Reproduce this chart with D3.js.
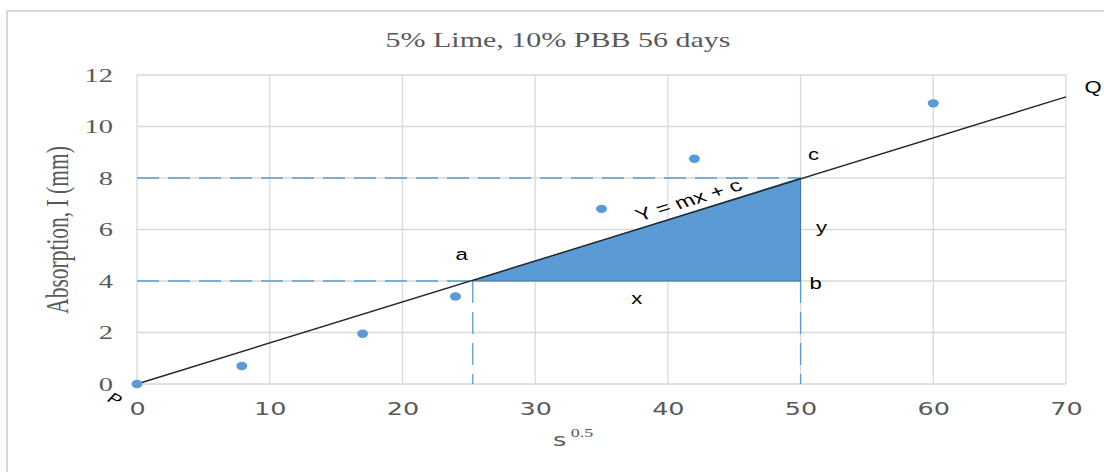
<!DOCTYPE html>
<html>
<head>
<meta charset="utf-8">
<script src="https://cdn.jsdelivr.net/npm/d3@7"></script>
<style>
    body { margin: 0; background: #fff; }
    svg { display: block; }
</style>
</head>
<body>
<div id="chart"></div>
<script>
// data
const sValues = [0, 7.9, 17, 24, 35, 42, 60];
const absorption = [0, 0.7, 1.95, 3.4, 6.8, 8.75, 10.9];

// fitted line from P to Q
const fitX = [0, 70];
const fitY = [0, 11.15];

// triangle corners a, b, c
const cornerNames = ["a", "b", "c"];
const cornerX = [25.3, 50, 50];
const cornerY = [4, 4, 8];

const xTicks = [0, 10, 20, 30, 40, 50, 60, 70];
const yTicks = [0, 2, 4, 6, 8, 10, 12];

const title = "5% Lime, 10% PBB 56 days";

// the source picture is stretched sideways, so text is too
const SX = 1.5;
const SA = 1.4;   // stretch for the annotation text

let width = 1104, height = 472;
let margin = {top: 75, right: 38, bottom: 88, left: 137};
let innerW = width - margin.left - margin.right;
let innerH = height - margin.top - margin.bottom;

let svg = d3.select("#chart").append("svg")
    .attr("width", width)
    .attr("height", height);

// outer chart frame
svg.append("rect")
    .attr("x", 7).attr("y", 11)
    .attr("width", width + 20).attr("height", height + 20)
    .attr("fill", "none")
    .attr("stroke", "#d9d9d9")
    .attr("stroke-width", 2);

svg.append("text")
    .attr("transform", `translate(558, 47) scale(${SX}, 1)`)
    .attr("text-anchor", "middle")
    .attr("font-family", "Liberation Serif, serif")
    .attr("font-size", 20)
    .attr("fill", "#595959")
    .text(title);

let g = svg.append("g")
    .attr("transform", `translate(${margin.left}, ${margin.top})`);

let x = d3.scaleLinear().domain([0, 70]).range([0, innerW]);
let y = d3.scaleLinear().domain([0, 12]).range([innerH, 0]);

// gridlines
g.append("g").selectAll("line").data(xTicks).enter().append("line")
    .attr("x1", d => x(d)).attr("x2", d => x(d))
    .attr("y1", 0).attr("y2", innerH)
    .attr("stroke", "#d9d9d9").attr("stroke-width", 1.3);

g.append("g").selectAll("line").data(yTicks).enter().append("line")
    .attr("x1", 0).attr("x2", innerW)
    .attr("y1", d => y(d)).attr("y2", d => y(d))
    .attr("stroke", "#d9d9d9").attr("stroke-width", 1.3);

// axes (labels only)
let xAxis = g.append("g")
    .attr("transform", `translate(0, ${innerH})`)
    .call(d3.axisBottom(x).tickValues(xTicks).tickSize(0).tickPadding(19));
xAxis.select(".domain").remove();
xAxis.selectAll("text")
    .attr("transform", `scale(${SX}, 1)`)
    .attr("font-family", "DejaVu Sans, sans-serif")
    .attr("font-size", 17)
    .attr("fill", "#595959");

let yAxis = g.append("g")
    .call(d3.axisLeft(y).tickValues(yTicks).tickSize(0));
yAxis.select(".domain").remove();
yAxis.selectAll("text")
    .attr("x", -24 / SX)
    .attr("dy", "0.34em")
    .attr("transform", `scale(${SX}, 1)`)
    .attr("font-family", "Liberation Serif, serif")
    .attr("font-size", 19)
    .attr("fill", "#595959");

// axis titles
svg.append("text")
    .attr("transform", `translate(68, 230) scale(${SX}, 1) rotate(-90)`)
    .attr("text-anchor", "middle")
    .attr("font-family", "Liberation Serif, serif")
    .attr("font-size", 21.5)
    .attr("fill", "#595959")
    .text("Absorption, I (mm)");

let xLab = svg.append("text")
    .attr("transform", `translate(553, 446) scale(${SX}, 1)`)
    .attr("font-family", "DejaVu Sans, sans-serif")
    .attr("font-size", 17)
    .attr("fill", "#595959");
xLab.append("tspan").text("s");
xLab.append("tspan")
    .attr("dx", 3)
    .attr("dy", -9)
    .attr("font-family", "Liberation Serif, serif")
    .attr("font-size", 12)
    .text("0.5");

// dashed construction lines
let a = {x: cornerX[0], y: cornerY[0]};
let b = {x: cornerX[1], y: cornerY[1]};
let c = {x: cornerX[2], y: cornerY[2]};
let dashes = [
    [0, c.y, c.x, c.y],
    [0, a.y, a.x, a.y],
    [a.x, a.y, a.x, 0],
    [b.x, b.y, b.x, 0]
];
g.append("g").selectAll("line").data(dashes).enter().append("line")
    .attr("x1", d => x(d[0])).attr("y1", d => y(d[1]))
    .attr("x2", d => x(d[2])).attr("y2", d => y(d[3]))
    .attr("stroke", "#5b9bd5")
    .attr("stroke-width", 1.3)
    .attr("stroke-dasharray", "22,9");

// triangle
g.append("path")
    .attr("d", d3.line().x(d => x(d[0])).y(d => y(d[1]))(cornerX.map((v, i) => [v, cornerY[i]])) + "Z")
    .attr("fill", "#5b9bd5")
    .attr("stroke", "#41719c")
    .attr("stroke-width", 1);

// fitted line
g.append("path")
    .attr("d", d3.line().x(d => x(d[0])).y(d => y(d[1]))(fitX.map((v, i) => [v, fitY[i]])))
    .attr("fill", "none")
    .attr("stroke", "#262626")
    .attr("stroke-width", 1.4);

// points
g.append("g").selectAll("ellipse").data(sValues).enter().append("ellipse")
    .attr("cx", d => x(d))
    .attr("cy", (d, i) => y(absorption[i]))
    .attr("rx", 5.5)
    .attr("ry", 4.2)
    .attr("fill", "#5b9bd5");

// annotation labels
let annFont = "Liberation Sans, Arial, sans-serif";
let labels = [
    {t: "a", px: x(a.x) - 11, py: y(a.y) - 25},
    {t: "b", px: x(b.x) + 15, py: y(b.y) + 4},
    {t: "c", px: x(c.x) + 13, py: y(c.y) - 22},
    {t: "x", px: (x(a.x) + x(b.x)) / 2, py: y(a.y) + 19},
    {t: "y", px: x(b.x) + 21, py: (y(b.y) + y(c.y)) / 2 - 1},
    {t: "Q", px: x(fitX[1]) + 27, py: y(fitY[1]) - 8}
];
g.append("g").selectAll("text").data(labels).enter().append("text")
    .attr("transform", d => `translate(${d.px}, ${d.py}) scale(1.3, 1)`)
    .attr("text-anchor", "middle")
    .attr("dominant-baseline", "middle")
    .attr("font-family", annFont)
    .attr("font-size", 17)
    .attr("fill", "#000")
    .text(d => d.t);

// P label, tilted
g.append("text")
    .attr("transform", `translate(${x(0) - 23}, ${y(0) + 16}) scale(1.3, 1) rotate(35)`)
    .attr("text-anchor", "middle")
    .attr("dominant-baseline", "middle")
    .attr("font-family", annFont)
    .attr("font-size", 15)
    .text("P");

// equation along the line (angle taken in unstretched space)
let angle = Math.atan2(y(fitY[1]) - y(fitY[0]), (x(fitX[1]) - x(fitX[0])) / SA) * 180 / Math.PI;
let eqX = 41.8;
g.append("text")
    .attr("transform", `translate(${x(eqX)}, ${y(fitY[1] / fitX[1] * eqX) - 7}) scale(${SA}, 1) rotate(${angle})`)
    .attr("text-anchor", "middle")
    .attr("font-family", annFont)
    .attr("font-size", 17)
    .attr("fill", "#000")
    .text("Y = mx + c");
</script>
</body>
</html>
